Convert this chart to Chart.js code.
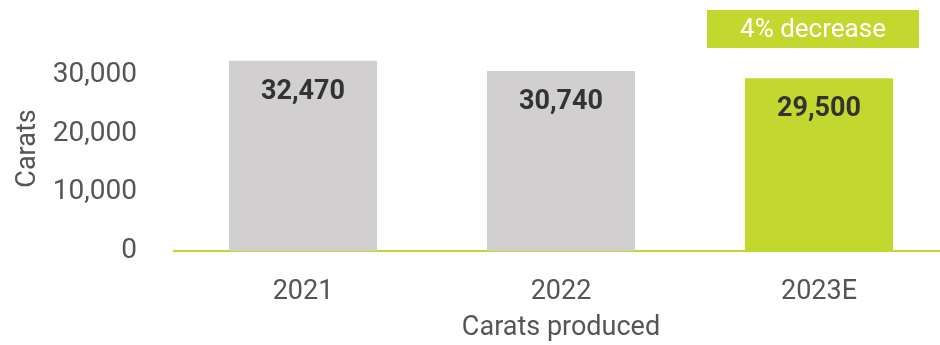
<!DOCTYPE html>
<html>
<head>
<meta charset="utf-8">
<script src="https://cdn.jsdelivr.net/npm/chart.js@4/dist/chart.umd.min.js"></script>
<style>
  html, body { margin:0; padding:0; background:#fff; overflow:hidden; }
  #wrap { width:948px; height:345px; }
</style>
</head>
<body>
<div id="wrap"><canvas id="chart" width="948" height="345"></canvas></div>
<script>
// data
var years    = ['2021', '2022', '2023E'];
var carats   = [32470, 30740, 29500];
var yTicks   = [0, 10000, 20000, 30000];
var note     = '4% decrease';

var GREY  = '#d1cfd0';
var GREEN = '#c3d82e';
var TEXT  = '#555555';
var FONT  = 'Roboto';

// bold value labels inside bars
var valueLabels = {
  id: 'valueLabels',
  afterDatasetsDraw: function(chart){
    var ctx = chart.ctx;
    var meta = chart.getDatasetMeta(0);
    ctx.save();
    ctx.font = 'bold 27px ' + FONT;
    ctx.fillStyle = '#333333';
    ctx.textAlign = 'center';
    ctx.textBaseline = 'middle';
    meta.data.forEach(function(bar, i){
      ctx.fillText(carats[i].toLocaleString('en-US'), bar.x, bar.y + 31);
    });
    ctx.restore();
  }
};

// "4% decrease" tag over the last bar
var noteTag = {
  id: 'noteTag',
  afterDraw: function(chart){
    var ctx = chart.ctx;
    var bar = chart.getDatasetMeta(0).data[2];
    var w = 212, h = 38;
    var x = bar.x - 6 - w / 2, y = 10;
    ctx.save();
    ctx.fillStyle = GREEN;
    ctx.fillRect(x, y, w, h);
    ctx.font = '26px ' + FONT;
    ctx.fillStyle = '#ffffff';
    ctx.textAlign = 'center';
    ctx.textBaseline = 'middle';
    ctx.fillText(note, x + w / 2, y + h / 2 + 1);
    ctx.restore();
  }
};

new Chart(document.getElementById('chart'), {
  type: 'bar',
  data: {
    labels: years,
    datasets: [{
      data: carats,
      backgroundColor: [GREY, GREY, GREEN],
      borderWidth: 0,
      categoryPercentage: 1,
      barPercentage: 0.574
    }]
  },
  options: {
    responsive: false,
    animation: false,
    layout: { padding: { top: 46, right: 0, bottom: 0, left: 0 } },
    plugins: { legend: { display: false }, tooltip: { enabled: false } },
    scales: {
      x: {
        grid: { display: false, drawTicks: false },
        border: { display: true, color: GREEN, width: 2 },
        ticks: { color: TEXT, font: { family: FONT, size: 27 }, padding: 25 },
        title: { display: true, text: 'Carats produced', color: TEXT,
                 font: { family: FONT, size: 27 }, padding: { top: 0, bottom: 1 } },
        afterFit: function(s){ s.height = 94; }
      },
      y: {
        min: 0, max: 35000,
        grid: { display: false, drawTicks: false },
        border: { display: false },
        ticks: {
          color: TEXT, font: { family: FONT, size: 28 }, padding: 37,
          callback: function(v){ return v.toLocaleString('en-US'); }
        },
        afterBuildTicks: function(s){ s.ticks = yTicks.map(function(v){ return { value: v }; }); },
        title: { display: true, text: 'Carats', color: TEXT,
                 font: { family: FONT, size: 27 }, padding: { top: 12, bottom: 0 } },
        // fixed width, and no extra top/bottom padding from the tick labels
        afterFit: function(s){ s.width = 174; s.paddingTop = 0; s.paddingBottom = 0; }
      }
    }
  },
  plugins: [valueLabels, noteTag]
});
</script>
</body>
</html>
